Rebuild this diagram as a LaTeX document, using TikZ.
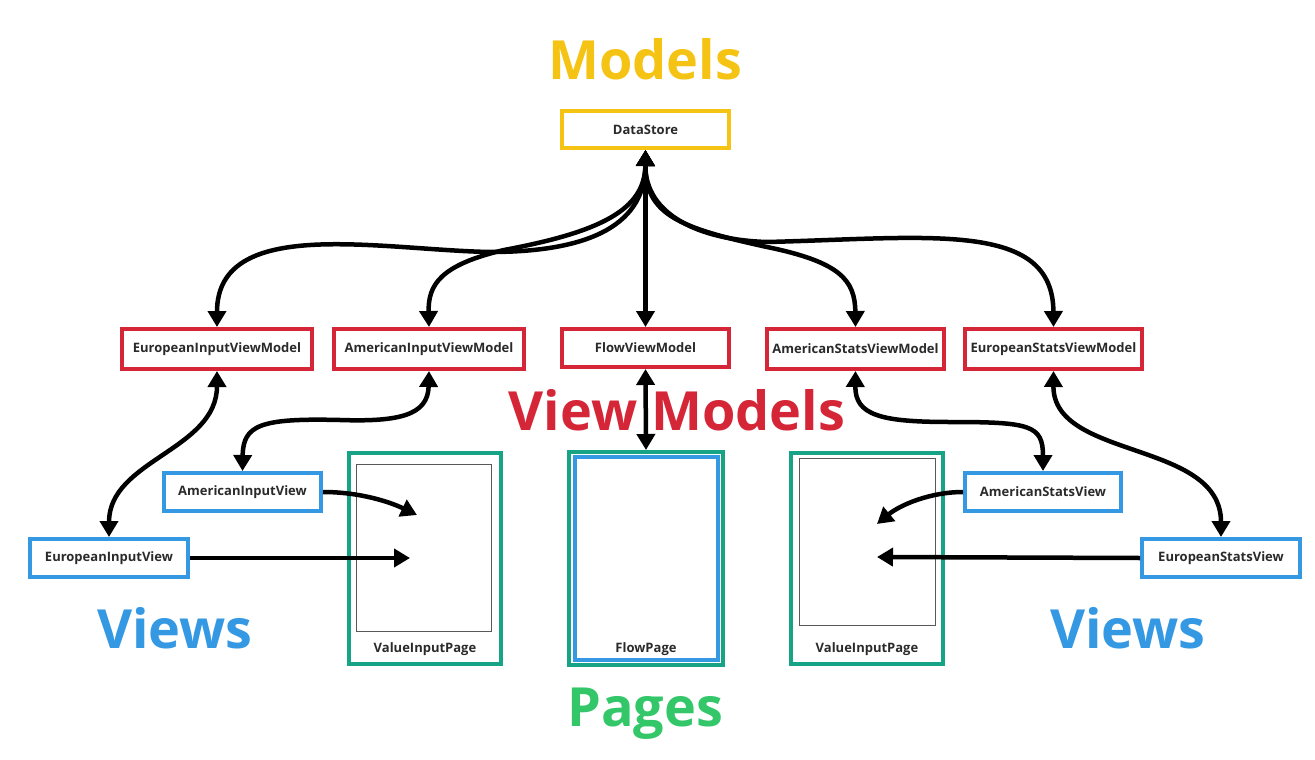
\documentclass[tikz,border=0pt]{standalone}
\usepackage{fontspec}
\setmainfont{Open Sans}
\newfontfamily\semib{Open Sans}[FakeBold=2]
\usetikzlibrary{arrows.meta}
\definecolor{myyellow}{HTML}{F5C314}
\definecolor{myred}{HTML}{D52637}
\definecolor{myblue}{HTML}{3498E3}
\definecolor{mygreen}{HTML}{33C76A}
\definecolor{myteal}{HTML}{17A386}
\definecolor{mytext}{HTML}{2A2A2A}
\begin{document}
\begin{tikzpicture}[x=1pt,y=-1pt,
  box/.style={draw, line width=4pt, fill=white, inner sep=0pt, text=mytext,
    font=\fontsize{13}{16}\selectfont\bfseries},
  vmbox/.style={box, draw=myred, minimum height=40pt},
  vbox/.style={box, draw=myblue, minimum height=38pt},
  pagebox/.style={draw=myteal, line width=4pt, minimum width=152pt, minimum height=211pt, inner sep=0pt},
  inner/.style={draw=black!65, line width=1pt},
  pagelabel/.style={text=mytext, font=\fontsize{13}{16}\selectfont\bfseries},
  heading/.style={anchor=base, font=\fontsize{54}{60}\selectfont\bfseries},
  arr/.style={line width=4.5pt, -{Triangle[width=18pt,length=16pt]}},
  darr/.style={line width=4.5pt, {Triangle[width=18pt,length=16pt]}-{Triangle[width=18pt,length=16pt]}}
]
\useasboundingbox (0,0) rectangle (1315,760);

% headings
\node[heading, text=myyellow] (hmodels) at (645,80) {Models};
\node[heading, text=myred] (hvm) at (677,430) {View Models};
\node[heading, text=myblue] (hviewsl) at (175,648) {Views};
\node[heading, text=myblue] (hviewsr) at (1128,648) {Views};
\node[heading, text=mygreen] (hpages) at (645,726) {Pages};

% model
\node[box, draw=myyellow, minimum width=167pt, minimum height=37pt] (ds) at (645.5,129.5) {DataStore};

% view models
\node[vmbox, minimum width=190pt] (eivm) at (217,349) {EuropeanInputViewModel};
\node[vmbox, minimum width=190pt] (aivm) at (429,349) {AmericanInputViewModel};
\node[vmbox, minimum width=167pt, minimum height=38pt] (fvm) at (645.5,348) {FlowViewModel};
\node[vmbox, minimum width=177pt] (asvm) at (855.5,349) {AmericanStatsViewModel};
\node[vmbox, minimum width=177pt] (esvm) at (1053.5,349) {EuropeanStatsViewModel};

% pages
\node[pagebox] (lpage) at (425,558.5) {};
\draw[inner] (356,464) rectangle (491,631);
\node[pagelabel] (lpagel) at (425,649) {ValueInputPage};

\node[pagebox, minimum width=154pt, minimum height=213pt] (fpage) at (646,558.5) {};
\node[draw=myblue, line width=4pt, minimum width=143pt, minimum height=203pt, inner sep=0pt] (fpagein) at (646.5,558.5) {};
\node[pagelabel] (fpagel) at (646,649) {FlowPage};

\node[pagebox] (rpage) at (867,558.5) {};
\draw[inner] (799,458) rectangle (935,625);
\node[pagelabel] (rpagel) at (867,649) {ValueInputPage};

% views
\node[vbox, minimum width=157pt] (aiv) at (242.5,492) {AmericanInputView};
\node[vbox, minimum width=158pt] (eiv) at (109,558) {EuropeanInputView};
\node[vbox, minimum width=156pt] (asv) at (1043,492) {AmericanStatsView};
\node[vbox, minimum width=158pt] (esv) at (1221,558) {EuropeanStatsView};

% targets inside pages
\coordinate (tAIV) at (417,515);
\coordinate (tEIV) at (410,558);
\coordinate (tASV) at (877,524);
\coordinate (tESV) at (877,557);

% DataStore <-> view models
\draw[darr] (ds.south) .. controls (645,230) and (580,252) .. (490,252)
   .. controls (380,250) and (217,215) .. (eivm.north);
\draw[darr] (ds.south) .. controls (645,210) and (600,232) .. (504,250)
   .. controls (440,265) and (428,285) .. (aivm.north);
\draw[darr] (ds.south) -- (fvm.north);
\draw[darr] (ds.south) .. controls (645,215) and (680,228) .. (767,247)
   .. controls (840,262) and (855,280) .. (asvm.north);
\draw[darr] (ds.south) .. controls (645,215) and (700,240) .. (767,242)
   .. controls (930,238) and (1053,220) .. (esvm.north);

% view models <-> views
\draw[darr] (eivm.south) .. controls (217,450) and (109,460) .. (eiv.north);
\draw[darr] (aivm.south) .. controls (428,415) and (400,422) .. (340,420)
   .. controls (260,418) and (243,425) .. (aiv.north);
\draw[darr] (fvm.south) -- (fpage.north);
\draw[darr] (asvm.south) .. controls (855,415) and (880,422) .. (950,422)
   .. controls (1030,422) and (1043,425) .. (asv.north);
\draw[darr] (esvm.south) .. controls (1053,460) and (1221,440) .. (esv.north);

% views -> pages
\draw[arr] (aiv.east) .. controls (360,492) and (390,502) .. (tAIV);
\draw[arr] (eiv.east) -- (tEIV);
\draw[arr] (asv.west) .. controls (930,492) and (900,505) .. (tASV);
\draw[arr] (esv.west) -- (tESV);
\end{tikzpicture}
\end{document}
